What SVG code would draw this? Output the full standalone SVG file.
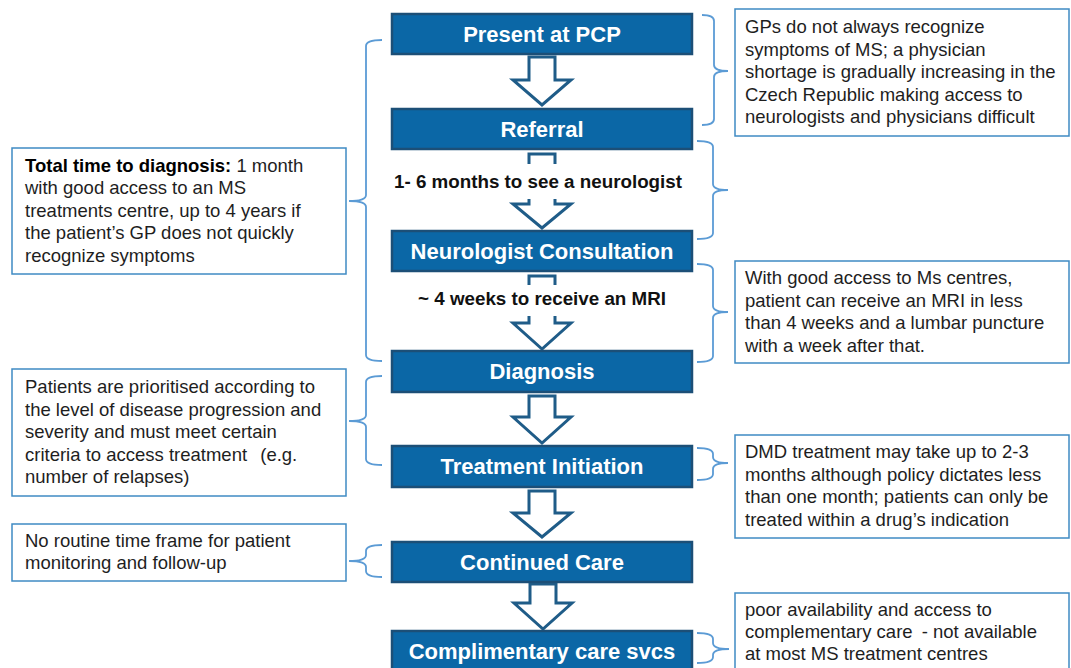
<svg xmlns="http://www.w3.org/2000/svg" width="1071" height="668" viewBox="0 0 1071 668">
<style>
.step{fill:#0b67a6;stroke:#1c4f77;stroke-width:2.5}
.ttl{font-family:"Liberation Sans",Arial,sans-serif;font-weight:bold;font-size:22px;fill:#fff;text-anchor:middle}
.note{fill:#fff;stroke:#3f8bc3;stroke-width:1.5}
.nt{font-family:"Liberation Sans",Arial,sans-serif;font-size:18.5px;fill:#1e1e1e}
.arr{fill:#fff;stroke:#1f5c88;stroke-width:3;stroke-linejoin:miter}
.brace{fill:none;stroke:#5b9bd5;stroke-width:1.8}
.lbl{font-family:"Liberation Sans",Arial,sans-serif;font-weight:bold;font-size:18.8px;fill:#111;text-anchor:middle}
</style>
<rect width="1071" height="668" fill="#fff"/>

<g id="connectors">
  <path class="arr" d="M529,57 H555 V80 H571 L542,105 L513,80 H529 Z"/>
  <path class="arr" d="M529,154 H555 V204 H571 L542,228 L513,204 H529 Z"/>
  <path class="arr" d="M529,276 H555 V323 H571 L542,349 L513,323 H529 Z"/>
  <path class="arr" d="M529,396 H555 V417 H571 L542,443 L513,417 H529 Z"/>
  <path class="arr" d="M529,491 H555 V513 H571 L542,537 L513,513 H529 Z"/>
  <path class="arr" d="M530,584 H556 V603 H572 L543,629 L514,603 H530 Z"/>
  <rect x="500" y="164" width="90" height="35" fill="#fff"/>
  <rect x="500" y="285" width="90" height="31" fill="#fff"/>
  <text class="lbl" x="538" y="188">1- 6 months to see a neurologist</text>
  <text class="lbl" x="542" y="305">~ 4 weeks to receive an MRI</text>

  <path class="brace" d="M702,15 Q714,15 714,21 V65 Q714,71 728,71 Q714,71 714,77 V119 Q714,125 702,125"/>
  <path class="brace" d="M697,141 Q713,141 713,147 V184 Q713,190 728,190 Q713,190 713,196 V233 Q713,239 697,239"/>
  <path class="brace" d="M697,264 Q713,264 713,270 V306 Q713,312 728,312 Q713,312 713,318 V356 Q713,362 697,362"/>
  <path class="brace" d="M697,448 Q713,448 713,454 V457 Q713,463 728,463 Q713,463 713,469 V474 Q713,480 697,480"/>
  <path class="brace" d="M697,633 Q713,633 713,639 V643 Q713,649 729,649 Q713,649 713,655 V657 Q713,663 697,663"/>
  <path class="brace" d="M382,40 Q366,40 366,46 V195 Q366,201 349,201 Q366,201 366,207 V355 Q366,361 382,361"/>
  <path class="brace" d="M382,376 Q366,376 366,382 V415 Q366,421 349,421 Q366,421 366,427 V459 Q366,465 382,465"/>
  <path class="brace" d="M382,545 Q366,545 366,551 V555 Q366,561 349,561 Q366,561 366,567 V571 Q366,577 382,577"/>
</g>

<g id="present-at-pcp">
  <rect class="step" x="392" y="14" width="300" height="40"/>
  <text class="ttl" x="542" y="42">Present at PCP</text>
</g>
<g id="referral">
  <rect class="step" x="392" y="109" width="300" height="40"/>
  <text class="ttl" x="542" y="137">Referral</text>
</g>
<g id="neurologist-consultation">
  <rect class="step" x="392" y="231" width="300" height="40"/>
  <text class="ttl" x="542" y="259">Neurologist Consultation</text>
</g>
<g id="diagnosis">
  <rect class="step" x="392" y="351" width="300" height="41"/>
  <text class="ttl" x="542" y="379">Diagnosis</text>
</g>
<g id="treatment-initiation">
  <rect class="step" x="392" y="446" width="300" height="41"/>
  <text class="ttl" x="542" y="474">Treatment Initiation</text>
</g>
<g id="continued-care">
  <rect class="step" x="392" y="542" width="300" height="40"/>
  <text class="ttl" x="542" y="570">Continued Care</text>
</g>
<g id="complimentary-care">
  <rect class="step" x="392" y="631" width="300" height="42"/>
  <text class="ttl" x="542" y="659">Complimentary care svcs</text>
</g>

<g id="note-gp">
  <rect class="note" x="735" y="9" width="334" height="127"/>
  <text class="nt" x="745" y="33">GPs do not always recognize</text>
  <text class="nt" x="745" y="55.5">symptoms of MS; a physician</text>
  <text class="nt" x="745" y="78">shortage is gradually increasing in the</text>
  <text class="nt" x="745" y="100.5">Czech Republic making access to</text>
  <text class="nt" x="745" y="123">neurologists and physicians difficult</text>
</g>
<g id="note-total-time">
  <rect class="note" x="12" y="148" width="334" height="126"/>
  <text class="nt" x="25" y="171.5"><tspan font-weight="bold" fill="#000">Total time to diagnosis:</tspan> 1 month</text>
  <text class="nt" x="25" y="194">with good access to an MS</text>
  <text class="nt" x="25" y="216.5">treatments centre, up to 4 years if</text>
  <text class="nt" x="25" y="239">the patient’s GP does not quickly</text>
  <text class="nt" x="25" y="261.5">recognize symptoms</text>
</g>
<g id="note-mri">
  <rect class="note" x="735" y="261" width="334" height="102"/>
  <text class="nt" x="745" y="284">With good access to Ms centres,</text>
  <text class="nt" x="745" y="306.5">patient can receive an MRI in less</text>
  <text class="nt" x="745" y="329">than 4 weeks and a lumbar puncture</text>
  <text class="nt" x="745" y="351.5">with a week after that.</text>
</g>
<g id="note-prioritised">
  <rect class="note" x="12" y="369" width="334" height="127"/>
  <text class="nt" x="25" y="393">Patients are prioritised according to</text>
  <text class="nt" x="25" y="415.5">the level of disease progression and</text>
  <text class="nt" x="25" y="438">severity and must meet certain</text>
  <text class="nt" x="25" y="460.5">criteria to access treatment <tspan dx="8">(e.g.</tspan></text>
  <text class="nt" x="25" y="483">number of relapses)</text>
</g>
<g id="note-dmd">
  <rect class="note" x="735" y="435" width="334" height="103"/>
  <text class="nt" x="745" y="458">DMD treatment may take up to 2-3</text>
  <text class="nt" x="745" y="480.5">months although policy dictates less</text>
  <text class="nt" x="745" y="503">than one month; patients can only be</text>
  <text class="nt" x="745" y="525.5">treated within a drug’s indication</text>
</g>
<g id="note-monitoring">
  <rect class="note" x="12" y="524" width="334" height="57"/>
  <text class="nt" x="25" y="546.5">No routine time frame for patient</text>
  <text class="nt" x="25" y="569">monitoring and follow-up</text>
</g>
<g id="note-complementary">
  <rect class="note" x="735" y="593" width="334" height="80"/>
  <text class="nt" x="745" y="615.5">poor availability and access to</text>
  <text class="nt" x="745" y="638">complementary care <tspan dx="4">- not available</tspan></text>
  <text class="nt" x="745" y="660">at most MS treatment centres</text>
</g>
</svg>
